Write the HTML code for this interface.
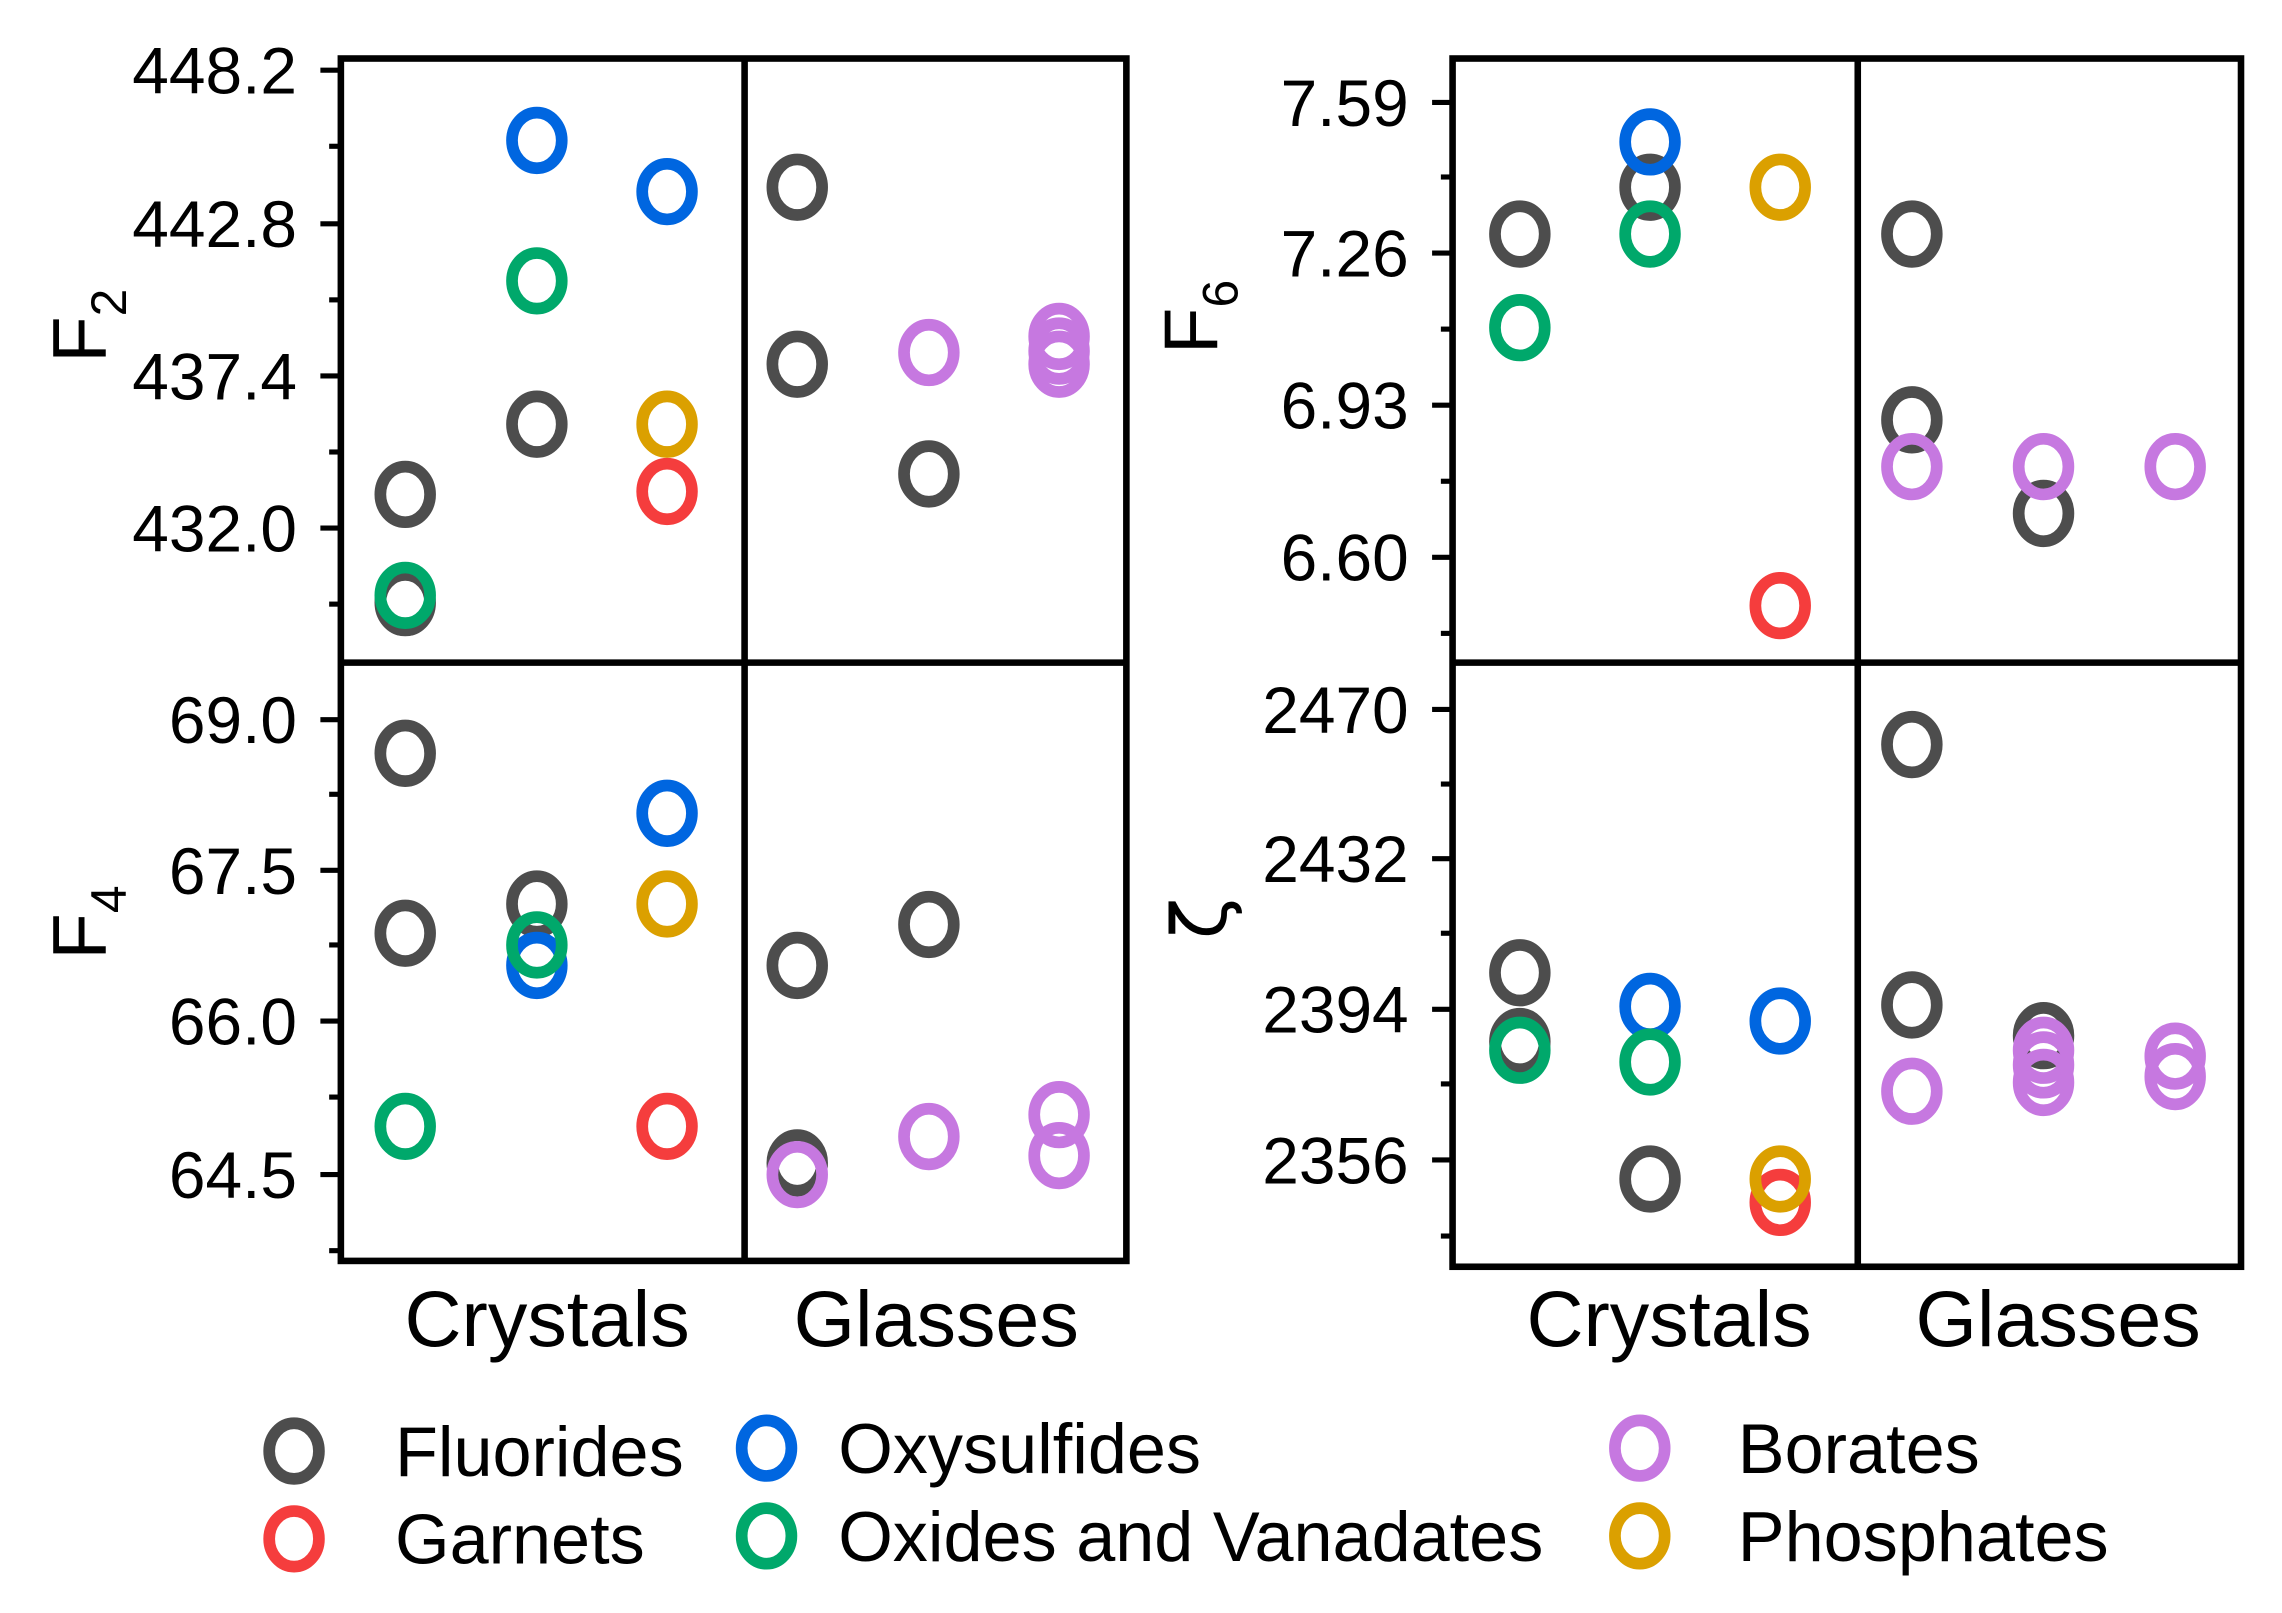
<!DOCTYPE html>
<html><head><meta charset="utf-8"><style>html,body{margin:0;padding:0;background:#fff}svg{display:block}</style></head>
<body>
<svg width="2282" height="1613" viewBox="0 0 1560 1102.7" xmlns="http://www.w3.org/2000/svg" font-family="Liberation Sans, Arial, sans-serif">
<rect width="1560" height="1103" fill="#fff"/>
<defs>
<style>
.ax{stroke:#000;stroke-width:4.5;fill:none}
.tk{stroke:#000;stroke-width:3.5}
.tl{font-size:45px;text-anchor:end}
.m{fill:none;stroke-width:8}
.g{stroke:#4d4d4d}.b{stroke:#0066e0}.gr{stroke:#00a86b}.r{stroke:#f53d3d}.o{stroke:#dba000}.p{stroke:#c678e0}
</style>
</defs>
<g class="ax">
<rect x="233" y="40" width="537" height="822"/>
<line x1="233" y1="453" x2="770" y2="453"/>
<line x1="509" y1="38" x2="509" y2="862"/>
<rect x="993" y="40" width="539" height="826"/>
<line x1="993" y1="453" x2="1532" y2="453"/>
<line x1="1270" y1="40" x2="1270" y2="866"/>
</g>
<g class="tk">
<line x1="219" y1="48" x2="233" y2="48"/><line x1="225" y1="100" x2="233" y2="100"/>
<line x1="219" y1="153" x2="233" y2="153"/><line x1="225" y1="205" x2="233" y2="205"/>
<line x1="219" y1="257" x2="233" y2="257"/><line x1="225" y1="309" x2="233" y2="309"/>
<line x1="219" y1="361" x2="233" y2="361"/><line x1="225" y1="413" x2="233" y2="413"/>
<line x1="219" y1="492" x2="233" y2="492"/><line x1="225" y1="543" x2="233" y2="543"/>
<line x1="219" y1="595" x2="233" y2="595"/><line x1="225" y1="646" x2="233" y2="646"/>
<line x1="219" y1="698" x2="233" y2="698"/><line x1="225" y1="750" x2="233" y2="750"/>
<line x1="219" y1="803" x2="233" y2="803"/><line x1="225" y1="855" x2="233" y2="855"/>
<line x1="979" y1="70" x2="993" y2="70"/><line x1="985" y1="121" x2="993" y2="121"/>
<line x1="979" y1="173" x2="993" y2="173"/><line x1="985" y1="225" x2="993" y2="225"/>
<line x1="979" y1="277" x2="993" y2="277"/><line x1="985" y1="329" x2="993" y2="329"/>
<line x1="979" y1="381" x2="993" y2="381"/><line x1="985" y1="433" x2="993" y2="433"/>
<line x1="979" y1="485" x2="993" y2="485"/><line x1="985" y1="536" x2="993" y2="536"/>
<line x1="979" y1="587" x2="993" y2="587"/><line x1="985" y1="638" x2="993" y2="638"/>
<line x1="979" y1="690" x2="993" y2="690"/><line x1="985" y1="741" x2="993" y2="741"/>
<line x1="979" y1="793" x2="993" y2="793"/><line x1="985" y1="845" x2="993" y2="845"/>
</g>
<g class="tl">
<text x="203" y="64">448.2</text><text x="203" y="169">442.8</text><text x="203" y="273">437.4</text><text x="203" y="377">432.0</text>
<text x="203" y="508">69.0</text><text x="203" y="611">67.5</text><text x="203" y="714">66.0</text><text x="203" y="819">64.5</text>
<text x="963" y="86">7.59</text><text x="963" y="189">7.26</text><text x="963" y="293">6.93</text><text x="963" y="397">6.60</text>
<text x="963" y="501">2470</text><text x="963" y="603">2432</text><text x="963" y="706">2394</text><text x="963" y="809">2356</text>
</g>
<g font-size="52px">
<text transform="translate(72,248) rotate(-90)">F<tspan font-size="34px" dy="14">2</tspan></text>
<text transform="translate(72,656) rotate(-90)">F<tspan font-size="34px" dy="14">4</tspan></text>
<text transform="translate(832,242) rotate(-90)">F<tspan font-size="34px" dy="14">6</tspan></text>
<text transform="translate(838,642) rotate(-90)" font-family="DejaVu Sans, sans-serif">ζ</text>
</g>
<g font-size="54px" text-anchor="middle">
<text x="374" y="920">Crystals</text><text x="640" y="920">Glasses</text>
<text x="1141" y="920">Crystals</text><text x="1407" y="920">Glasses</text>
</g>
<g>
<ellipse class="m g" cx="277" cy="338" rx="17" ry="19"/>
<ellipse class="m g" cx="277" cy="412" rx="17" ry="19"/>
<ellipse class="m gr" cx="277" cy="407" rx="17" ry="19"/>
<ellipse class="m b" cx="367" cy="96" rx="17" ry="19"/>
<ellipse class="m gr" cx="367" cy="192" rx="17" ry="19"/>
<ellipse class="m g" cx="367" cy="290" rx="17" ry="19"/>
<ellipse class="m b" cx="456" cy="131" rx="17" ry="19"/>
<ellipse class="m o" cx="456" cy="290" rx="17" ry="19"/>
<ellipse class="m r" cx="456" cy="336" rx="17" ry="19"/>
<ellipse class="m g" cx="545" cy="128" rx="17" ry="19"/>
<ellipse class="m g" cx="545" cy="249" rx="17" ry="19"/>
<ellipse class="m g" cx="635" cy="324" rx="17" ry="19"/>
<ellipse class="m p" cx="635" cy="241" rx="17" ry="19"/>
<ellipse class="m p" cx="724" cy="230" rx="17" ry="19"/>
<ellipse class="m p" cx="724" cy="240" rx="17" ry="19"/>
<ellipse class="m p" cx="724" cy="249" rx="17" ry="19"/>
<ellipse class="m g" cx="277" cy="515" rx="17" ry="19"/>
<ellipse class="m g" cx="277" cy="638" rx="17" ry="19"/>
<ellipse class="m gr" cx="277" cy="770" rx="17" ry="19"/>
<ellipse class="m g" cx="367" cy="618" rx="17" ry="19"/>
<ellipse class="m b" cx="367" cy="660" rx="17" ry="19"/>
<ellipse class="m gr" cx="367" cy="646" rx="17" ry="19"/>
<ellipse class="m b" cx="456" cy="556" rx="17" ry="19"/>
<ellipse class="m o" cx="456" cy="618" rx="17" ry="19"/>
<ellipse class="m r" cx="456" cy="770" rx="17" ry="19"/>
<ellipse class="m g" cx="545" cy="660" rx="17" ry="19"/>
<ellipse class="m g" cx="545" cy="795" rx="17" ry="19"/>
<ellipse class="m p" cx="545" cy="803" rx="17" ry="19"/>
<ellipse class="m g" cx="635" cy="632" rx="17" ry="19"/>
<ellipse class="m p" cx="635" cy="777" rx="17" ry="19"/>
<ellipse class="m p" cx="724" cy="762" rx="17" ry="19"/>
<ellipse class="m p" cx="724" cy="790" rx="17" ry="19"/>
<ellipse class="m g" cx="1039" cy="160" rx="17" ry="19"/>
<ellipse class="m gr" cx="1039" cy="224" rx="17" ry="19"/>
<ellipse class="m g" cx="1128" cy="128" rx="17" ry="19"/>
<ellipse class="m b" cx="1128" cy="97" rx="17" ry="19"/>
<ellipse class="m gr" cx="1128" cy="160" rx="17" ry="19"/>
<ellipse class="m o" cx="1217" cy="128" rx="17" ry="19"/>
<ellipse class="m r" cx="1217" cy="414" rx="17" ry="19"/>
<ellipse class="m g" cx="1307" cy="160" rx="17" ry="19"/>
<ellipse class="m g" cx="1307" cy="287" rx="17" ry="19"/>
<ellipse class="m p" cx="1307" cy="319" rx="17" ry="19"/>
<ellipse class="m g" cx="1397" cy="351" rx="17" ry="19"/>
<ellipse class="m p" cx="1397" cy="319" rx="17" ry="19"/>
<ellipse class="m p" cx="1487" cy="319" rx="17" ry="19"/>
<ellipse class="m g" cx="1039" cy="665" rx="17" ry="19"/>
<ellipse class="m g" cx="1039" cy="712" rx="17" ry="19"/>
<ellipse class="m gr" cx="1039" cy="718" rx="17" ry="19"/>
<ellipse class="m b" cx="1128" cy="688" rx="17" ry="19"/>
<ellipse class="m gr" cx="1128" cy="726" rx="17" ry="19"/>
<ellipse class="m g" cx="1128" cy="806" rx="17" ry="19"/>
<ellipse class="m b" cx="1217" cy="698" rx="17" ry="19"/>
<ellipse class="m r" cx="1217" cy="822" rx="17" ry="19"/>
<ellipse class="m o" cx="1217" cy="806" rx="17" ry="19"/>
<ellipse class="m g" cx="1307" cy="509" rx="17" ry="19"/>
<ellipse class="m g" cx="1307" cy="687" rx="17" ry="19"/>
<ellipse class="m p" cx="1307" cy="746" rx="17" ry="19"/>
<ellipse class="m g" cx="1397" cy="708" rx="17" ry="19"/>
<ellipse class="m p" cx="1397" cy="718" rx="17" ry="19"/>
<ellipse class="m p" cx="1397" cy="728" rx="17" ry="19"/>
<ellipse class="m p" cx="1397" cy="740" rx="17" ry="19"/>
<ellipse class="m p" cx="1487" cy="722" rx="17" ry="19"/>
<ellipse class="m p" cx="1487" cy="736" rx="17" ry="19"/>
</g>
<ellipse class="m g" cx="201" cy="992" rx="17" ry="19"/>
<ellipse class="m r" cx="201" cy="1052" rx="17" ry="19"/>
<ellipse class="m b" cx="524" cy="990" rx="17" ry="19"/>
<ellipse class="m gr" cx="524" cy="1050" rx="17" ry="19"/>
<ellipse class="m p" cx="1121" cy="990" rx="17" ry="19"/>
<ellipse class="m o" cx="1121" cy="1050" rx="17" ry="19"/>
<g font-size="48px">
<text x="270" y="1009">Fluorides</text>
<text x="270" y="1069">Garnets</text>
<text x="573" y="1007">Oxysulfides</text>
<text x="573" y="1067">Oxides and Vanadates</text>
<text x="1188" y="1007">Borates</text>
<text x="1188" y="1067">Phosphates</text>
</g>
</svg>
</body></html>
